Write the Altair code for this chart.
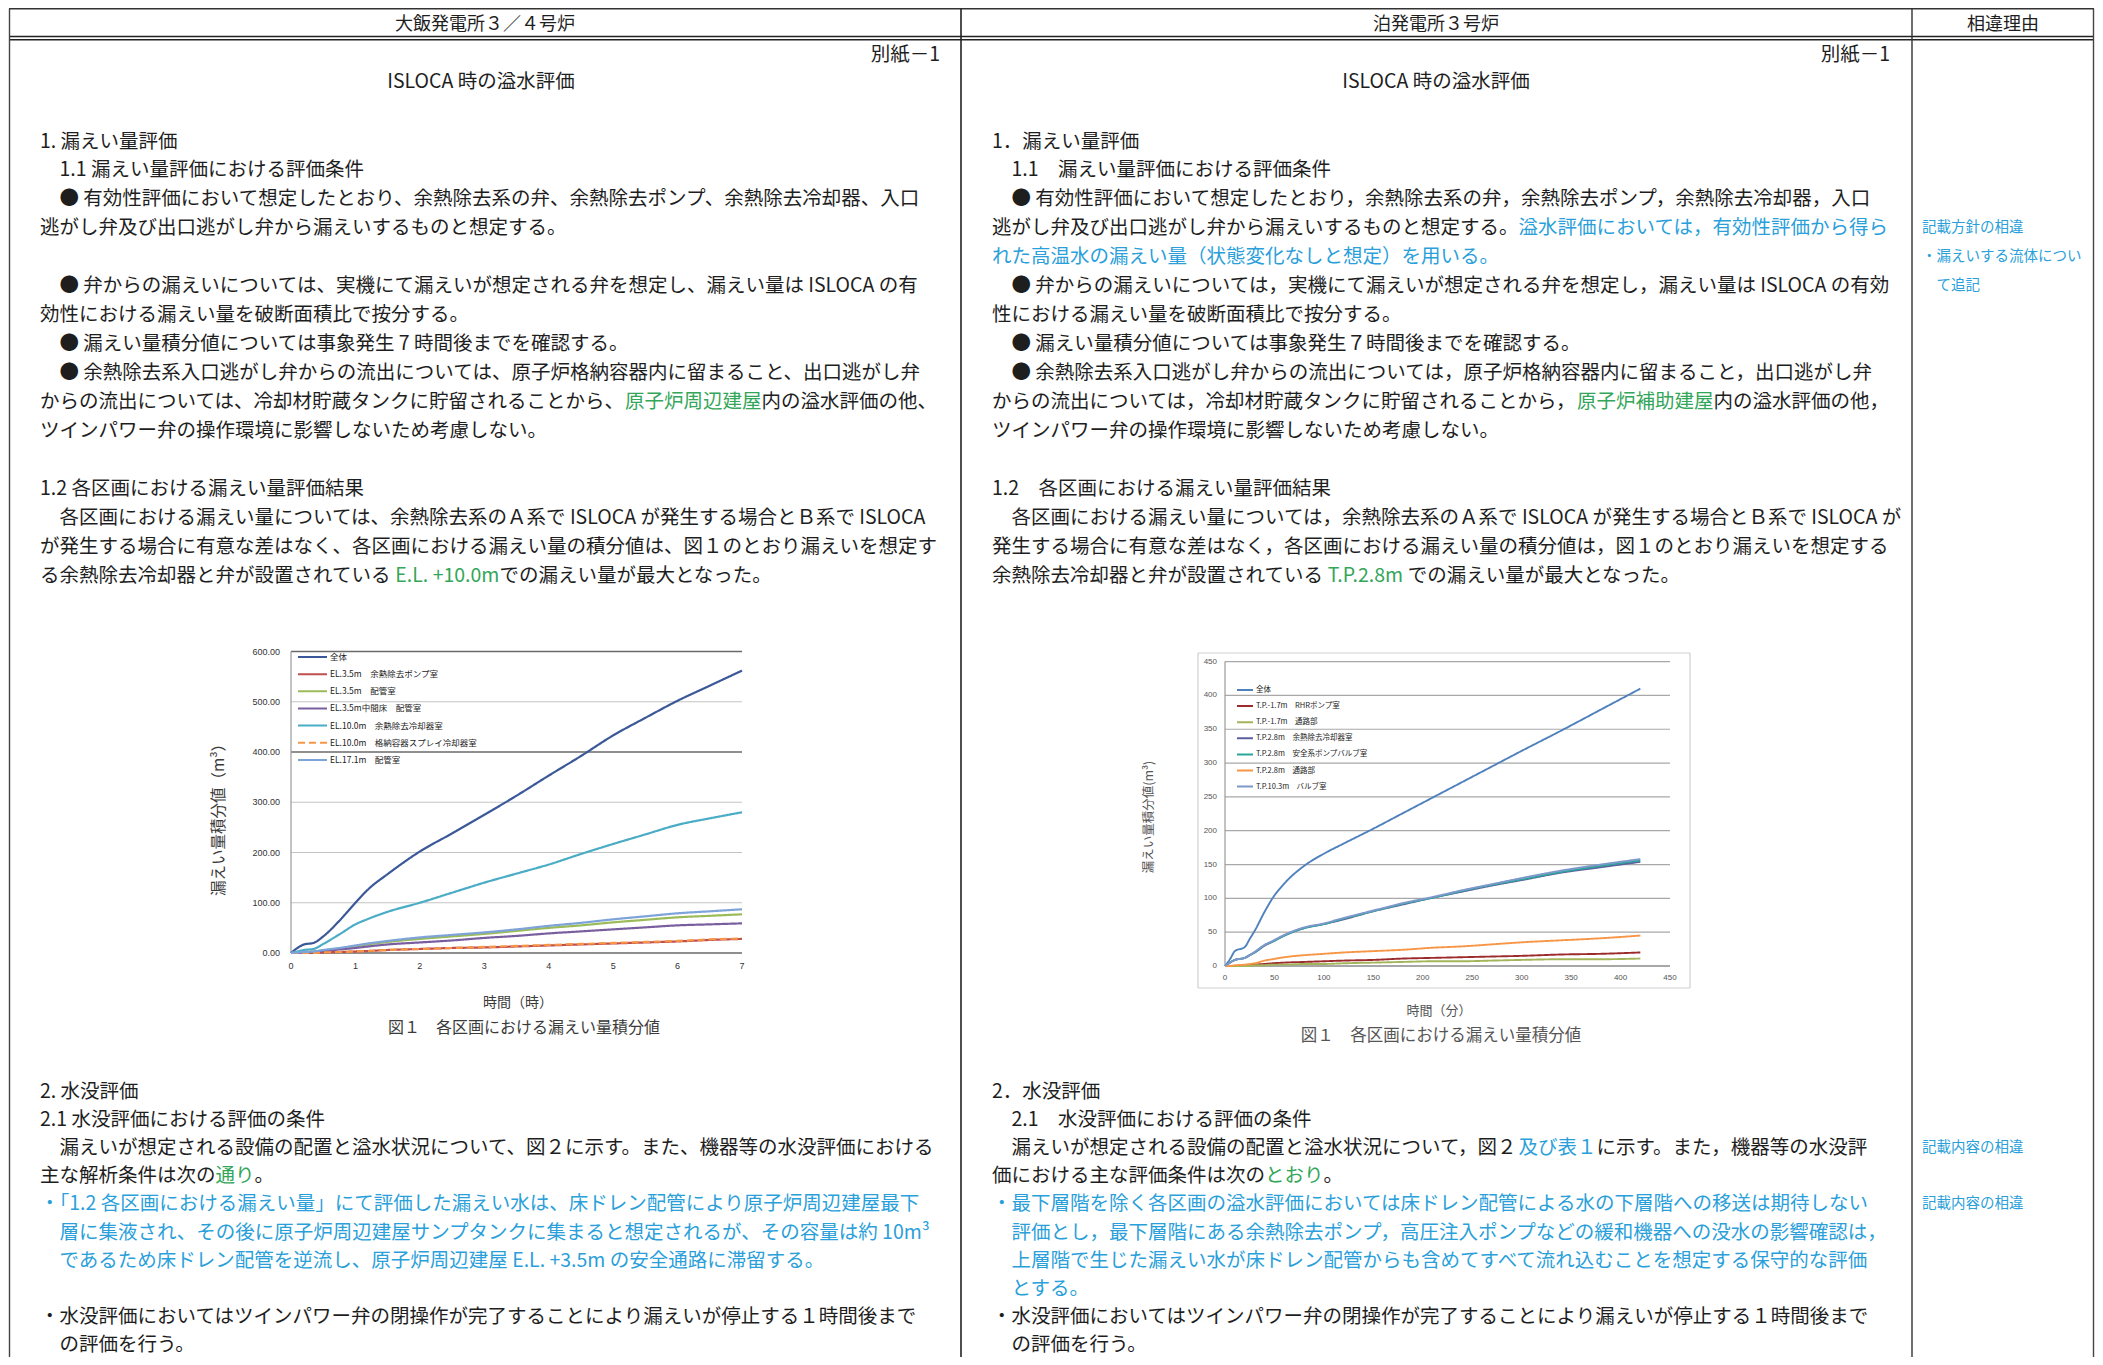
import re
import altair as alt
import pandas as pd

W, H = 2087, 1349
FONT = "Noto Sans CJK JP"
INK = "#1e1e1e"
GREEN = "#33a65a"
BLUE = "#2b9fda"
COLORS = {"k": INK, "g": GREEN, "b": BLUE}

# ---------------- text content ----------------
header_left = "大飯発電所３／４号炉"
header_mid = "泊発電所３号炉"
header_right = "相違理由"
annex = "別紙－1"
doc_title = "ISLOCA 時の溢水評価"

left_upper = [
    "1. 漏えい量評価",
    "　1.1 漏えい量評価における評価条件",
    "　● 有効性評価において想定したとおり、余熱除去系の弁、余熱除去ポンプ、余熱除去冷却器、入口",
    "逃がし弁及び出口逃がし弁から漏えいするものと想定する。",
    "",
    "　● 弁からの漏えいについては、実機にて漏えいが想定される弁を想定し、漏えい量は ISLOCA の有",
    "効性における漏えい量を破断面積比で按分する。",
    "　● 漏えい量積分値については事象発生 7 時間後までを確認する。",
    "　● 余熱除去系入口逃がし弁からの流出については、原子炉格納容器内に留まること、出口逃がし弁",
    "からの流出については、冷却材貯蔵タンクに貯留されることから、{g:原子炉周辺建屋}内の溢水評価の他、",
    "ツインパワー弁の操作環境に影響しないため考慮しない。",
    "",
    "1.2 各区画における漏えい量評価結果",
    "　各区画における漏えい量については、余熱除去系のＡ系で ISLOCA が発生する場合とＢ系で ISLOCA",
    "が発生する場合に有意な差はなく、各区画における漏えい量の積分値は、図１のとおり漏えいを想定す",
    "る余熱除去冷却器と弁が設置されている {g:E.L. +10.0m} での漏えい量が最大となった。",
]
left_lower = [
    "2. 水没評価",
    "2.1 水没評価における評価の条件",
    "　漏えいが想定される設備の配置と溢水状況について、図２に示す。また、機器等の水没評価における",
    "主な解析条件は次の{g:通り}。",
    "{b:・「1.2 各区画における漏えい量」にて評価した漏えい水は、床ドレン配管により原子炉周辺建屋最下}",
    "{b:　層に集液され、その後に原子炉周辺建屋サンプタンクに集まると想定されるが、その容量は約 10m³}",
    "{b:　であるため床ドレン配管を逆流し、原子炉周辺建屋 E.L. +3.5m の安全通路に滞留する。}",
    "",
    "・水没評価においてはツインパワー弁の閉操作が完了することにより漏えいが停止する１時間後まで",
    "　の評価を行う。",
]
mid_upper = [
    "1．漏えい量評価",
    "　1.1　漏えい量評価における評価条件",
    "　● 有効性評価において想定したとおり，余熱除去系の弁，余熱除去ポンプ，余熱除去冷却器，入口",
    "逃がし弁及び出口逃がし弁から漏えいするものと想定する。{b:溢水評価においては，有効性評価から得ら}",
    "{b:れた高温水の漏えい量（状態変化なしと想定）を用いる。}",
    "　● 弁からの漏えいについては，実機にて漏えいが想定される弁を想定し，漏えい量は ISLOCA の有効",
    "性における漏えい量を破断面積比で按分する。",
    "　● 漏えい量積分値については事象発生７時間後までを確認する。",
    "　● 余熱除去系入口逃がし弁からの流出については，原子炉格納容器内に留まること，出口逃がし弁",
    "からの流出については，冷却材貯蔵タンクに貯留されることから，{g:原子炉補助建屋}内の溢水評価の他，",
    "ツインパワー弁の操作環境に影響しないため考慮しない。",
    "",
    "1.2　各区画における漏えい量評価結果",
    "　各区画における漏えい量については，余熱除去系のＡ系で ISLOCA が発生する場合とＢ系で ISLOCA が",
    "発生する場合に有意な差はなく，各区画における漏えい量の積分値は，図１のとおり漏えいを想定する",
    "余熱除去冷却器と弁が設置されている {g:T.P.2.8m} での漏えい量が最大となった。",
]
mid_lower = [
    "2．水没評価",
    "　2.1　水没評価における評価の条件",
    "　漏えいが想定される設備の配置と溢水状況について，図２{b:及び表１}に示す。また，機器等の水没評",
    "価における主な評価条件は次の{g:とおり}。",
    "{b:・最下層階を除く各区画の溢水評価においては床ドレン配管による水の下層階への移送は期待しない}",
    "{b:　評価とし，最下層階にある余熱除去ポンプ，高圧注入ポンプなどの緩和機器への没水の影響確認は，}",
    "{b:　上層階で生じた漏えい水が床ドレン配管からも含めてすべて流れ込むことを想定する保守的な評価}",
    "{b:　とする。}",
    "・水没評価においてはツインパワー弁の閉操作が完了することにより漏えいが停止する１時間後まで",
    "　の評価を行う。",
]
reason_upper = ["", "", "", "記載方針の相違", "・漏えいする流体につい", "　て追記"]
reason_lower = ["", "", "記載内容の相違", "", "記載内容の相違"]

fig_caption = "図１　各区画における漏えい量積分値"

# ---------------- chart data: left (大飯) ----------------
left_x_title = "時間（時）"
left_y_title = "漏えい量積分値（m³）"
left_t = [0, 0.1, 0.2, 0.35, 0.5, 0.75, 1.0, 1.2, 1.5, 2, 2.5, 3, 3.5, 4, 4.5, 5, 5.5, 6, 6.5, 7]
left_names = ["全体", "EL.3.5m　余熱除去ポンプ室", "EL.3.5m　配管室", "EL.3.5m中間床　配管室",
              "EL.10.0m　余熱除去冷却器室", "EL.10.0m　格納容器スプレイ冷却器室", "EL.17.1m　配管室"]
left_total = [0, 10, 17, 20, 33, 64, 100, 127, 157, 202, 238, 275, 313, 353, 392, 433, 468, 502, 532, 562]
left_rhr_pump = [0, 0, 0, 0, 1, 2, 3, 4, 6, 8, 10, 11, 13, 15, 17, 19, 21, 23, 26, 28]
left_pipe35 = [0, 1, 2, 3, 5, 9, 13, 17, 22, 28, 33, 38, 44, 50, 55, 61, 66, 71, 74, 77]
left_mid_floor = [0, 0.5, 1, 2, 4, 7, 10, 13, 17, 21, 25, 30, 34, 39, 43, 47, 51, 55, 57, 59]
left_rhr_cooler = [0, 3, 6, 8, 18, 37, 57, 68, 82, 100, 120, 140, 158, 176, 197, 217, 236, 255, 268, 280]
left_cs_cooler = [0, 0, 0, 0, 1, 2, 3, 4, 6, 8, 10, 12, 14, 16, 18, 20, 22, 24, 27, 29]
left_pipe171 = [0, 1, 2, 3, 6, 10, 15, 19, 24, 31, 36, 41, 47, 54, 60, 67, 73, 79, 83, 87]
left_series = [left_total, left_rhr_pump, left_pipe35, left_mid_floor,
               left_rhr_cooler, left_cs_cooler, left_pipe171]
left_y_ticks = [0, 100, 200, 300, 400, 500, 600]
left_y_labels = ["0.00", "100.00", "200.00", "300.00", "400.00", "500.00", "600.00"]
left_x_ticks = [0, 1, 2, 3, 4, 5, 6, 7]

# ---------------- chart data: right (泊) ----------------
right_x_title = "時間（分）"
right_y_title = "漏えい量積分値(m³)"
right_t = [0, 5, 10, 20, 25, 30, 40, 48, 60, 80, 100, 120, 150, 180, 210, 240, 270, 300, 340, 380, 420]
right_names = ["全体", "T.P.-1.7m　RHRポンプ室", "T.P.-1.7m　通路部", "T.P.2.8m　余熱除去冷却器室",
               "T.P.2.8m　安全系ポンプバルブ室", "T.P.2.8m　通路部", "T.P.10.3m　バルブ室"]
right_total = [0, 10, 22, 28, 40, 52, 80, 100, 122, 148, 166, 181, 203, 226, 249, 272, 295, 318, 348, 379, 410]
right_rhr_pump = [0, 0, 0, 1, 1, 2, 3, 4, 5, 6, 7, 8, 9, 11, 12, 13, 14, 15, 17, 18, 20]
right_corr_m17 = [0, 0, 0, 0, 0, 1, 1, 2, 2, 3, 3, 4, 5, 6, 7, 7, 8, 9, 10, 10, 11]
right_rhr_cooler = [0, 5, 9, 12, 16, 20, 30, 36, 45, 56, 62, 69, 81, 91, 101, 110, 119, 127, 138, 146, 154]
right_safety_pump = [0, 5, 9, 12, 16, 20, 31, 36, 45, 56, 62, 70, 81, 92, 101, 111, 120, 128, 139, 148, 156]
right_corr_28 = [0, 0, 1, 2, 3, 4, 8, 10, 13, 16, 18, 20, 22, 24, 27, 29, 32, 35, 38, 41, 45]
right_valve = [0, 5, 9, 12, 16, 21, 31, 37, 46, 57, 63, 71, 82, 93, 102, 112, 121, 130, 141, 150, 158]
right_series = [right_total, right_rhr_pump, right_corr_m17, right_rhr_cooler,
                right_safety_pump, right_corr_28, right_valve]
right_ticks = [0, 50, 100, 150, 200, 250, 300, 350, 400, 450]

# ---------------- styles / layout (not data) ----------------
left_colors = ["#3b5898", "#c0504d", "#9bbb59", "#7a5fa0", "#4bacc6", "#f79646", "#7ea3d8"]
left_dashes = [[1, 0], [1, 0], [1, 0], [1, 0], [1, 0], [7, 4], [1, 0]]
right_colors = ["#4f81bd", "#9c2b2b", "#a3b55a", "#5d5f9e", "#2aa59a", "#f79646", "#7f98cc"]
right_dashes = [[1, 0]] * 7

XS = alt.Scale(domain=[8, 8 + W], range=[0, W])
YS = alt.Scale(domain=[8, 8 + H], range=[0, H])

HALF = {" ": 0.224, ".": 0.27, ",": 0.27, "m": 0.83, "I": 0.28, "L": 0.5, "E": 0.55,
        "O": 0.7, "C": 0.6, "A": 0.6, "S": 0.56, "T": 0.53, "P": 0.6, "+": 0.55,
        "(": 0.33, ")": 0.33, "-": 0.33, "³": 0.4}
SPACES = " \u3000"


def cw(ch):
    o = ord(ch)
    if o < 0x2000:
        return HALF.get(ch, 0.55)
    return 1.0


def parse(line):
    parts, pos = [], 0
    for m in re.finditer(r"\{([gb]):(.*?)\}", line):
        if m.start() > pos:
            parts.append((line[pos:m.start()], "k"))
        parts.append((m.group(2), m.group(1)))
        pos = m.end()
    if pos < len(line):
        parts.append((line[pos:], "k"))
    return parts


def lines_rows(lines, x0, y0, pitch, size, default="k"):
    rows = []
    for i, line in enumerate(lines):
        if not line:
            continue
        y = y0 + i * pitch
        pos = 0.0
        for seg, col in parse(line):
            if col == "k" and default != "k":
                col = default
            body = seg.lstrip(SPACES)
            lead = seg[: len(seg) - len(body)]
            start = pos + sum(cw(c) for c in lead)
            txt = body.rstrip(SPACES)
            if txt:
                rows.append(dict(x=x0 + start * size, y=y, text=txt, color=COLORS[col], size=size, angle=0))
            pos += sum(cw(c) for c in seg)
    return rows


def text_layer(rows, align="left", weight="normal"):
    return alt.Chart(pd.DataFrame(rows)).mark_text(
        font=FONT, align=align, baseline="middle", fontWeight=weight
    ).encode(
        x=alt.X("x:Q", scale=XS, axis=None),
        y=alt.Y("y:Q", scale=YS, axis=None),
        text="text:N",
        color=alt.Color("color:N", scale=None),
        size=alt.Size("size:Q", scale=None),
        angle=alt.Angle("angle:Q", scale=None),
    )


BODY = 19.5
UP_Y, UP_P = 141.5, 28.95
LO_Y, LO_P = 1092, 28.1
L_X, M_X, R_X = 40, 992, 1922
HEAD = 18

body_rows = []
body_rows += lines_rows(left_upper, L_X, UP_Y, UP_P, BODY)
body_rows += lines_rows(left_lower, L_X, LO_Y, LO_P, BODY)
body_rows += lines_rows(mid_upper, M_X, UP_Y, UP_P, BODY)
body_rows += lines_rows(mid_lower, M_X, LO_Y, LO_P, BODY)
body_rows += lines_rows(reason_upper, R_X, UP_Y, UP_P, 14.5, default="b")
body_rows += lines_rows(reason_lower, R_X, LO_Y, LO_P, 14.5, default="b")

center_rows = [
    dict(x=485, y=24.5, text=header_left, color=INK, size=HEAD, angle=0),
    dict(x=1436, y=24.5, text=header_mid, color=INK, size=HEAD, angle=0),
    dict(x=2003, y=24.5, text=header_right, color=INK, size=HEAD, angle=0),
    dict(x=481, y=82, text=doc_title, color=INK, size=19.5, angle=0),
    dict(x=1436, y=82, text=doc_title, color=INK, size=19.5, angle=0),
    dict(x=524, y=1028, text=fig_caption, color="#3a3a3a", size=16, angle=0),
    dict(x=1441, y=1036, text=fig_caption, color="#555555", size=16.5, angle=0),
    dict(x=518, y=1003, text=left_x_title, color="#3a3a3a", size=14, angle=0),
    dict(x=1439, y=1011, text=right_x_title, color="#555555", size=13, angle=0),
    dict(x=219, y=816, text=left_y_title, color="#3a3a3a", size=15.5, angle=270),
    dict(x=1149, y=817, text=right_y_title, color="#555555", size=12.5, angle=270),
]
right_rows = [
    dict(x=940, y=55, text=annex, color=INK, size=19.5, angle=0),
    dict(x=1890, y=55, text=annex, color=INK, size=19.5, angle=0),
]

# table rules
rules = [
    # x, x2, y, y2, width, color
    (9, 2094, 8.8, 8.8, 1.6, "#333333"),
    (9, 2094, 36.5, 36.5, 1.6, "#222222"),
    (9, 2094, 39.8, 39.8, 1.6, "#222222"),
    (9.5, 9.5, 8.8, 1360, 1.4, "#444444"),
    (961, 961, 8.8, 1360, 1.6, "#222222"),
    (1912, 1912, 8.8, 1360, 1.4, "#333333"),
    (2093.5, 2093.5, 8.8, 1360, 1.4, "#444444"),
    (1198, 1690, 653, 653, 1.2, "#cfcfcf"),
    (1198, 1690, 988, 988, 1.2, "#cfcfcf"),
    (1198, 1198, 653, 988, 1.2, "#cfcfcf"),
    (1690, 1690, 653, 988, 1.2, "#cfcfcf"),
]
rules_df = pd.DataFrame(rules, columns=["x", "x2", "y", "y2", "w", "c"])
rule_layer = alt.Chart(rules_df).mark_rule().encode(
    x=alt.X("x:Q", scale=XS, axis=None), x2="x2:Q",
    y=alt.Y("y:Q", scale=YS, axis=None), y2="y2:Q",
    strokeWidth=alt.StrokeWidth("w:Q", scale=None),
    color=alt.Color("c:N", scale=None),
)

canvas = alt.layer(
    rule_layer,
    text_layer(body_rows, "left"),
    text_layer(center_rows, "center"),
    text_layer(right_rows, "right"),
)


# ---------------- sub charts ----------------
def sub_chart(t, names, series, colors, dashes, xdom, ydom, xr, yr, yticks, ylabels, xticks,
              xlabels, strong, grid_col, strong_col, ylab_dx, xlab_dy, lab_size, lab_col, lw):
    xs = alt.Scale(domain=xdom, range=[xr[0] - 8, xr[1] - 8], nice=False, zero=False)
    ys = alt.Scale(domain=ydom, range=[yr[0] - 8, yr[1] - 8], nice=False, zero=False)
    grid = pd.DataFrame({"v": yticks, "a": xdom[0], "b": xdom[1],
                         "c": [strong_col if v in strong else grid_col for v in yticks],
                         "w": [1.6 if v in strong else 1.2 for v in yticks]})
    grid_l = alt.Chart(grid).mark_rule().encode(
        x=alt.X("a:Q", scale=xs, axis=None), x2="b:Q",
        y=alt.Y("v:Q", scale=ys, axis=None),
        color=alt.Color("c:N", scale=None),
        strokeWidth=alt.StrokeWidth("w:Q", scale=None),
    )
    vax = pd.DataFrame({"a": [xdom[0]], "lo": [ydom[0]], "hi": [ydom[1]]})
    vax_l = alt.Chart(vax).mark_rule(color="#9a9a9a", strokeWidth=1.2).encode(
        x=alt.X("a:Q", scale=xs, axis=None),
        y=alt.Y("lo:Q", scale=ys, axis=None), y2="hi:Q",
    )
    rows = []
    for name, vals in zip(names, series):
        for tt, vv in zip(t, vals):
            rows.append({"t": tt, "v": vv, "series": name})
    lines = alt.Chart(pd.DataFrame(rows)).mark_line(strokeWidth=lw, interpolate="monotone").encode(
        x=alt.X("t:Q", scale=xs, axis=None),
        y=alt.Y("v:Q", scale=ys, axis=None),
        color=alt.Color("series:N", scale=alt.Scale(domain=names, range=colors), legend=None),
        strokeDash=alt.StrokeDash("series:N", scale=alt.Scale(domain=names, range=dashes), legend=None),
        order=alt.Order("t:Q"),
    )
    yl = pd.DataFrame({"v": yticks, "label": ylabels, "a": xdom[0]})
    yl_l = alt.Chart(yl).mark_text(font="Liberation Sans", align="right", baseline="middle",
                                   dx=ylab_dx, fontSize=lab_size, color=lab_col).encode(
        x=alt.X("a:Q", scale=xs, axis=None), y=alt.Y("v:Q", scale=ys, axis=None), text="label:N")
    xl = pd.DataFrame({"t": xticks, "label": xlabels, "b": ydom[0]})
    xl_l = alt.Chart(xl).mark_text(font="Liberation Sans", align="center", baseline="middle",
                                   dy=xlab_dy, fontSize=lab_size, color=lab_col).encode(
        x=alt.X("t:Q", scale=xs, axis=None), y=alt.Y("b:Q", scale=ys, axis=None), text="label:N")
    return alt.layer(grid_l, vax_l, lines, yl_l, xl_l)


left_chart = sub_chart(left_t, left_names, left_series, left_colors, left_dashes,
                       [0, 7], [0, 600], (291, 742), (953, 651.5),
                       left_y_ticks, left_y_labels, left_x_ticks, [str(v) for v in left_x_ticks],
                       {0, 400, 600}, "#c4c4c4", "#6a6a6a", -11, 13, 9, "#333333", 2.2)
right_chart = sub_chart(right_t, right_names, right_series, right_colors, right_dashes,
                        [0, 450], [0, 450], (1225, 1670), (966, 661.6),
                        right_ticks, [str(v) for v in right_ticks], right_ticks,
                        [str(v) for v in right_ticks],
                        {0}, "#a8a8a8", "#8a8a8a", -8, 11.5, 8, "#555555", 1.9)


# ---------------- legends (drawn on the page canvas) ----------------
def legend_layers(names, colors, dashes, x0, x1, xt, y0, pitch, size):
    layers = []
    groups = {}
    for i, (n, c, d) in enumerate(zip(names, colors, dashes)):
        groups.setdefault(tuple(d), []).append(dict(x=x0, x2=x1, y=y0 + i * pitch, c=c))
    for d, rows in groups.items():
        layers.append(alt.Chart(pd.DataFrame(rows)).mark_rule(strokeWidth=2, strokeDash=list(d)).encode(
            x=alt.X("x:Q", scale=XS, axis=None), x2="x2:Q",
            y=alt.Y("y:Q", scale=YS, axis=None),
            color=alt.Color("c:N", scale=None)))
    trows = [dict(x=xt, y=y0 + i * pitch, text=n, color="#222222", size=size, angle=0)
             for i, n in enumerate(names)]
    layers.append(text_layer(trows, "left"))
    return layers


legends = alt.layer(
    *legend_layers(left_names, left_colors, left_dashes, 298, 327, 330, 657, 17.15, 8.5),
    *legend_layers(right_names, right_colors, right_dashes, 1237, 1253, 1256, 690, 16.1, 7.5),
)

chart = alt.layer(canvas, left_chart, right_chart, legends).resolve_scale(
    x="independent", y="independent", color="independent", strokeDash="independent"
).properties(
    width=W, height=H, padding=0, autosize=alt.AutoSizeParams(type="none"), background="white"
).configure_view(stroke=None)

chart.save("out.html", embed_options={"renderer": "svg", "actions": False})
